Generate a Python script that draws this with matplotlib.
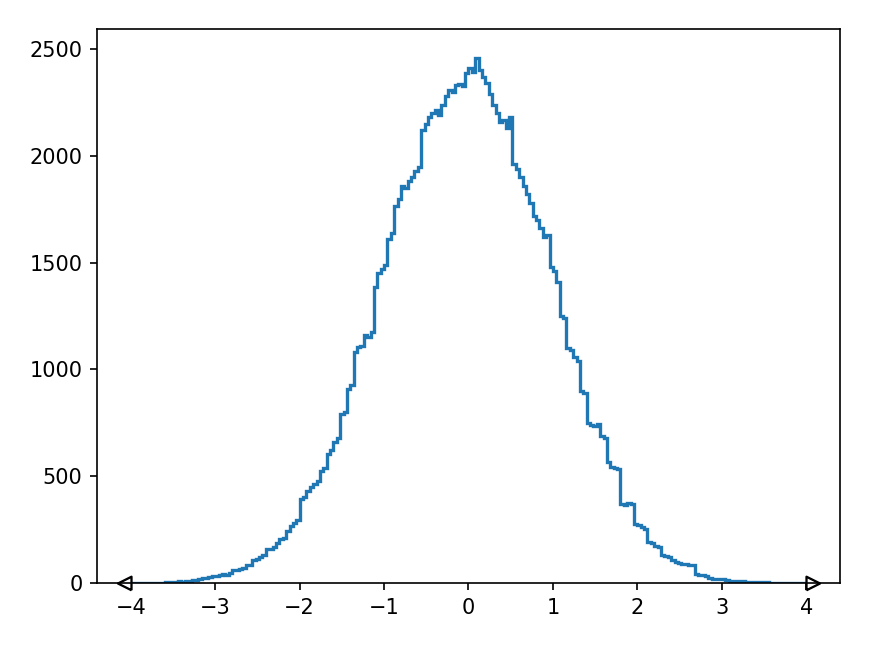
import numpy as np
import matplotlib.pyplot as plt

# histogram edges: 200 bins of width 0.04 between -4 and 4
edge_lo = -4.0
edge_hi = 4.0

counts = [
    0, 0, 0, 1, 0, 1, 1, 2, 1, 2,
    3, 5, 4, 6, 8, 7, 9, 10, 12, 15,
    20, 22, 24, 30, 33, 35, 38, 40, 39, 45,
    60, 62, 65, 72, 82, 85, 108, 112, 123, 130,
    158, 160, 170, 185, 205, 210, 245, 265, 280, 295,
    392, 405, 432, 448, 462, 478, 525, 540, 606, 625,
    660, 680, 790, 800, 910, 925, 1080, 1105, 1110, 1160,
    1150, 1175, 1385, 1450, 1470, 1490, 1610, 1640, 1765, 1800,
    1860, 1850, 1880, 1900, 1930, 1950, 2120, 2150, 2180, 2200,
    2215, 2190, 2240, 2280, 2310, 2300, 2330, 2335, 2325, 2390,
    2410, 2395, 2460, 2400, 2370, 2340, 2290, 2240, 2200, 2160,
    2170, 2130, 2180, 1960, 1940, 1900, 1860, 1820, 1780, 1720,
    1700, 1660, 1620, 1630, 1480, 1460, 1410, 1250, 1240, 1100,
    1090, 1060, 1040, 900, 890, 750, 740, 735, 745, 690,
    680, 565, 545, 540, 535, 370, 365, 375, 368, 275,
    270, 262, 255, 192, 185, 175, 170, 130, 125, 120,
    110, 98, 95, 90, 88, 86, 85, 40, 38, 36,
    35, 22, 20, 19, 18, 17, 16, 10, 9, 9,
    8, 8, 7, 6, 5, 5, 4, 3, 3, 2,
    2, 1, 2, 1, 1, 0, 1, 0, 0, 0,
]
edges = np.linspace(edge_lo, edge_hi, len(counts) + 1)

# triangle markers whose flat side sits on the end of the range
left_tri = [(0, -1), (0, 1), (-2, 0), (0, -1)]
right_tri = [(0, -1), (0, 1), (2, 0), (0, -1)]

fig = plt.figure(figsize=(5.8, 649 / 150), dpi=150)
ax = fig.add_axes([97 / 870, 66 / 649, 743 / 870, 554 / 649])

ax.stairs(counts, edges, color="C0", linewidth=1.6)
ax.plot([edges[0]], [0], marker=left_tri, markersize=13, color="k",
        markerfacecolor="white", markeredgewidth=1.1, linestyle="none", clip_on=False)
ax.plot([edges[-1]], [0], marker=right_tri, markersize=13, color="k",
        markerfacecolor="white", markeredgewidth=1.1, linestyle="none", clip_on=False)

ax.set_xlim(-4.4, 4.4)
ax.set_ylim(0, 2594)
ax.set_xticks(np.arange(-4, 5, 1))
ax.set_yticks(np.arange(0, 2501, 500))

fig.savefig("out.png", dpi=150)
